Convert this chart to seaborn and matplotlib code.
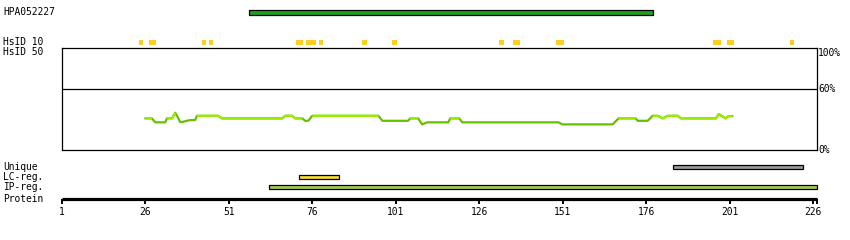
import matplotlib
matplotlib.use("Agg")
import matplotlib.pyplot as plt
import matplotlib.transforms as mtransforms
import seaborn as sns
import numpy as np
import pandas as pd

# ---------------- data ----------------
protein_length = 226
antigen_name = "HPA052227"
antigen_start, antigen_end = 57, 177

hsid10_starts = [24, 27, 43, 45, 71, 74, 78, 91, 100, 132, 136, 149, 196, 200, 219]
hsid10_ends   = [24, 28, 43, 45, 72, 76, 78, 91, 100, 132, 137, 150, 197, 201, 219]

identity_residues = [26, 28, 29, 32, 32.5, 34, 35, 36.5, 37, 38.5, 39.4, 40.9, 41.5, 47.8,
                     49, 67, 67.9, 70, 70.9, 73, 73.9, 74.8, 76, 95.8, 97, 104.7, 105.3,
                     107.7, 108.9, 110.4, 116.7, 117.3, 120, 120.9, 149.7, 150.9, 165.9,
                     167.7, 172.8, 173.4, 176.4, 177.9, 179.4, 180.9, 182.4, 185.4, 186.4,
                     196.8, 197.7, 199.7, 200.6, 201.8]
identity_percent = [31.1, 31.1, 27.2, 27.2, 31.1, 31.1, 36.6, 27.5, 27.5, 28.7, 29.4, 29.4,
                    33.6, 33.6, 31.1, 31.1, 33.6, 33.6, 31.1, 31.1, 28.7, 28.7, 33.6, 33.6,
                    28.7, 28.7, 31.1, 31.1, 25.2, 27.2, 27.2, 31.1, 31.1, 27.2, 27.2, 25.2,
                    25.2, 31.1, 31.1, 28.7, 28.7, 33.6, 33.6, 31.1, 33.6, 33.6, 31.1, 31.1,
                    35.3, 31.1, 33.3, 33.3]
identity_threshold = 30

unique_start, unique_end = 184, 222
lc_start, lc_end = 72, 83
ip_start, ip_end = 63, 226

tick_residues = [1, 26, 51, 76, 101, 126, 151, 176, 201, 226]
pct_values = [100, 60, 0]
pct_labels = ["100%", "60%", "0%"]

track_labels = ["HPA052227", "HsID 10", "HsID 50", "Unique", "LC-reg.", "IP-reg.", "Protein"]

# ---------------- colours ----------------
c_antigen = "#1f9e1f"
c_hsid = "#ffcc22"
c_light = "#99ee00"
c_dark = "#66c000"
c_unique = "#999999"
c_lc = "#f5dc3a"
c_ip = "#a0cc5a"

# ---------------- layout (pixels) ----------------
W, H = 850, 240
X0, X1 = 61.7, 816.7          # pixel positions of residue 1 and protein end
R0, R1 = 1, protein_length + 1
s = (X1 - X0) / (R1 - R0)

sns.set_theme(style="white")
plt.rcParams["font.family"] = ["DejaVu Sans Mono", "DejaVu Sans"]
FS = 6.9

fig = plt.figure(figsize=(W / 100, H / 100), dpi=100)

# background axes: x in residues, y in pixels
ax = fig.add_axes([0, 0, 1, 1])
ax.set_xlim(R0 - X0 / s, R1 + (W - X1) / s)
ax.set_ylim(H, 0)
ax.axis("off")

def bar(y, start, end, color, edge=True, h=5, pad=0.0):
    ax.barh(y, end + 1 - start + pad, left=start, height=h, color=color,
            edgecolor="black" if edge else "none", linewidth=0.9 if edge else 0)

# antigen bar
bar(12, antigen_start, antigen_end, c_antigen)
# HsID 10 boxes
for a, b in zip(hsid10_starts, hsid10_ends):
    bar(42, a, b, c_hsid, edge=False, h=5, pad=0.25)
# lower tracks
bar(167, unique_start, unique_end, c_unique, h=4.5)
bar(177, lc_start, lc_end, c_lc, h=4.5)
bar(187, ip_start, ip_end, c_ip, h=4.5)

# protein axis
ax.hlines(199, R0, R1, color="black", linewidth=2.3)
ax.vlines(tick_residues + [R1], 199, 203.5, color="black", linewidth=1.4)
for t in tick_residues:
    ax.text(t, 212, str(t), ha="center", va="center", fontsize=FS, color="black")

# left labels
label_y = [12, 42, 52, 167, 177, 187, 199]
for lab, y in zip(track_labels, label_y):
    fig.text(3 / W, 1 - y / H, lab, ha="left", va="center", fontsize=FS, color="black")

# identity (HsID 50) panel
top, bottom = 48.3, 150
axp = fig.add_axes([X0 / W, 1 - bottom / H, (X1 - X0) / W, (bottom - top) / H])
axp.set_xlim(R0, R1)
axp.set_ylim(0, 100)
axp.set_xticks([])
axp.set_yticks([])
axp.set_facecolor("none")
for sp in axp.spines.values():
    sp.set_visible(True)
    sp.set_color("black")
    sp.set_linewidth(0.9)
axp.axhline(60, color="black", linewidth=0.9)

df = pd.DataFrame({"residue": identity_residues, "identity": identity_percent})
sns.lineplot(data=df, x="residue", y="identity", ax=axp, color=c_dark,
             linewidth=1.6, estimator=None, sort=False)
vals = np.array(identity_percent, dtype=float)
light = np.where(vals >= identity_threshold, vals, np.nan)
axp.plot(identity_residues, light, color=c_light, linewidth=1.6, solid_capstyle="butt")
axp.set_xlabel("")
axp.set_ylabel("")

trans = mtransforms.blended_transform_factory(axp.transAxes, axp.transData)
for v, lab in zip(pct_values, pct_labels):
    axp.text(1.002, v, lab, transform=trans, ha="left",
             va="top" if v == 100 else "center", fontsize=FS, color="black")

fig.savefig("out.png", dpi=100)
